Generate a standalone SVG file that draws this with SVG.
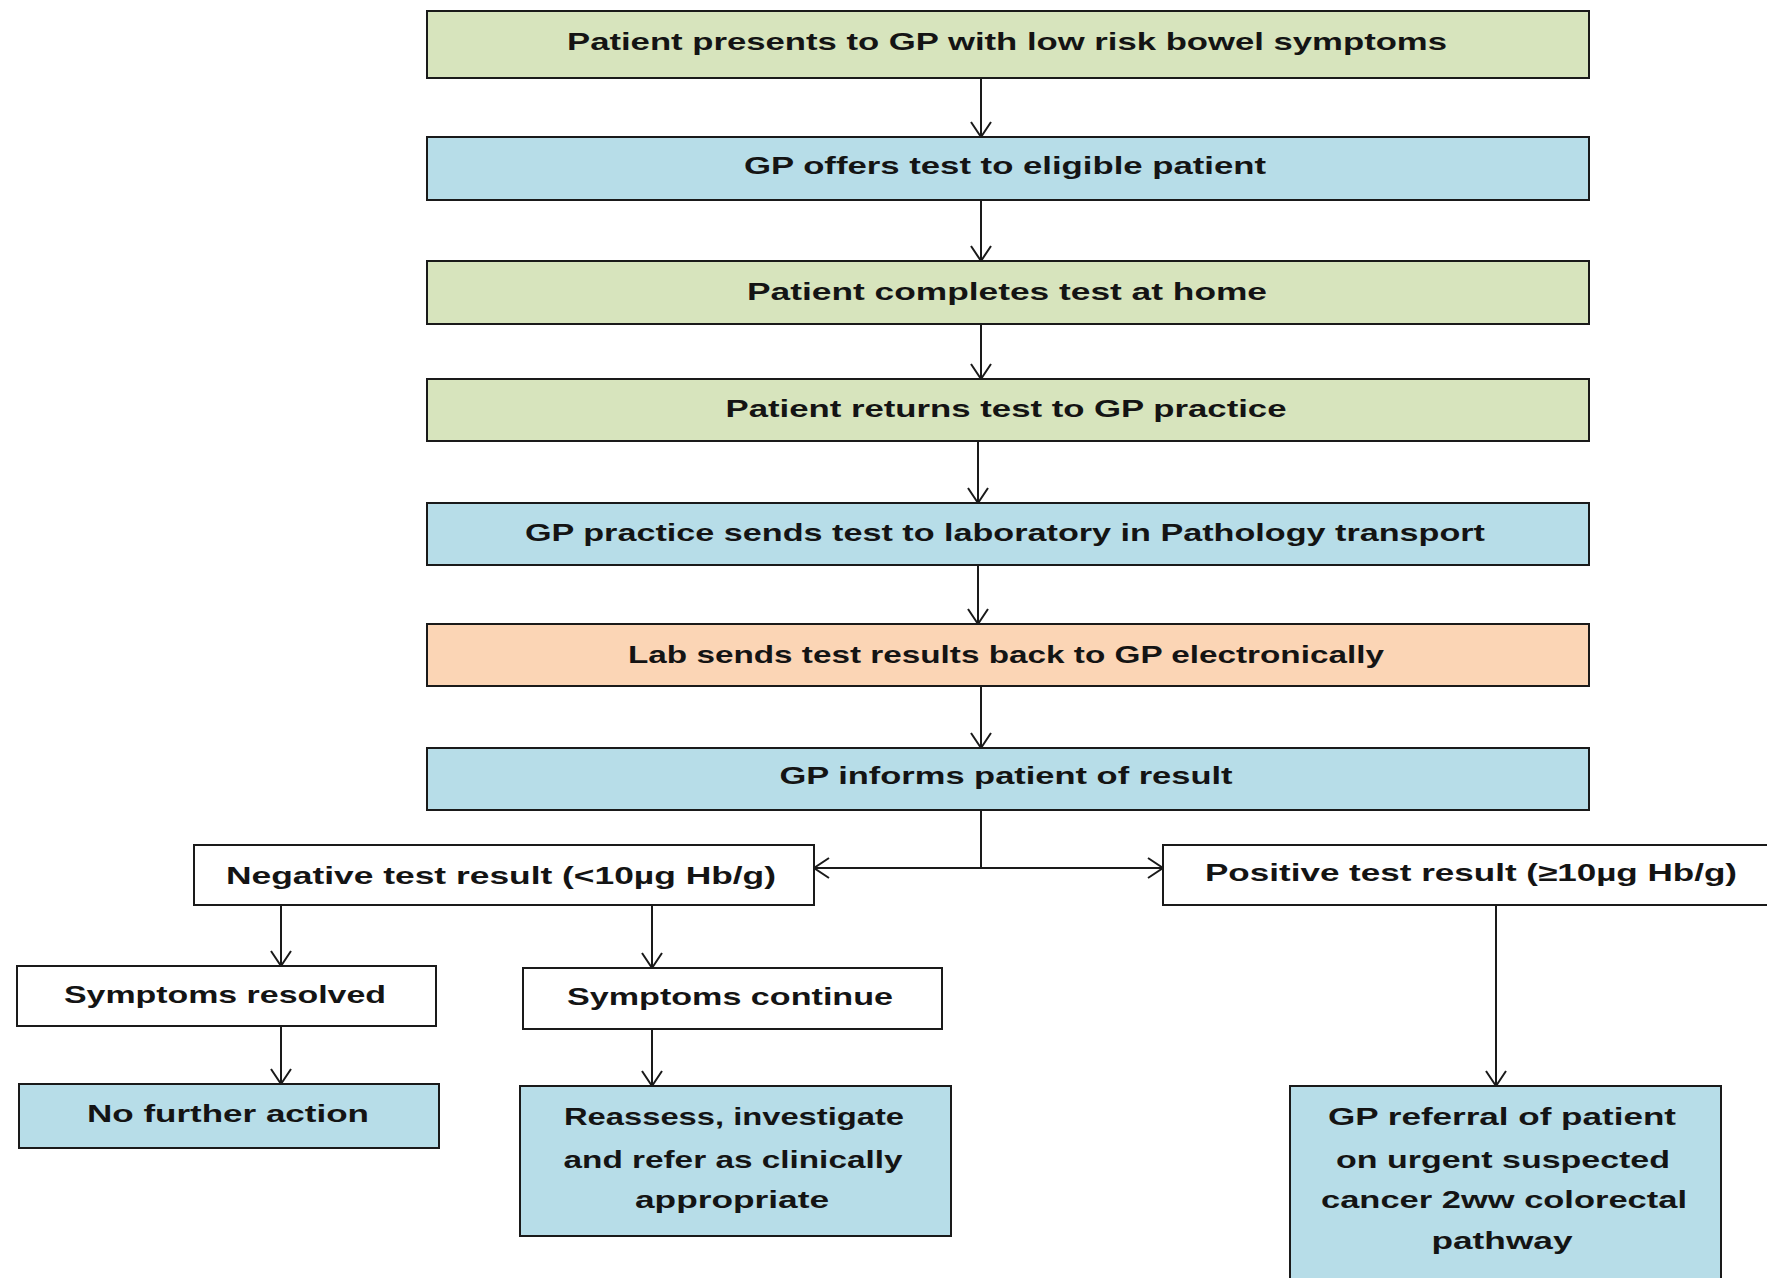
<svg xmlns="http://www.w3.org/2000/svg" width="1767" height="1278" viewBox="0 0 1767 1278">
<style>
.box{stroke:#1a1a1a;stroke-width:2}
.g{fill:#d7e4bd}.b{fill:#b7dde8}.p{fill:#fbd5b5}.w{fill:#ffffff}
text{font-family:"Liberation Sans",Arial,sans-serif;font-weight:bold;font-size:24px;fill:#141414;text-anchor:middle}
.c{stroke:#1a1a1a;stroke-width:2;fill:none}
</style>
<defs>
<marker id="ah" markerUnits="userSpaceOnUse" markerWidth="24" markerHeight="24" viewBox="0 0 24 24" refX="21" refY="12" orient="auto">
<path d="M6,2 L21,12 L6,22" fill="none" stroke="#1a1a1a" stroke-width="2"/>
</marker>
</defs>
<rect width="1767" height="1278" fill="#ffffff"/>
<g id="connectors">
<line class="c" x1="981" y1="78" x2="981" y2="137" marker-end="url(#ah)"/>
<line class="c" x1="981" y1="200" x2="981" y2="261" marker-end="url(#ah)"/>
<line class="c" x1="981" y1="324" x2="981" y2="379" marker-end="url(#ah)"/>
<line class="c" x1="978" y1="441" x2="978" y2="503" marker-end="url(#ah)"/>
<line class="c" x1="978" y1="565" x2="978" y2="624" marker-end="url(#ah)"/>
<line class="c" x1="981" y1="686" x2="981" y2="748" marker-end="url(#ah)"/>
<line class="c" x1="981" y1="810" x2="981" y2="868"/>
<line class="c" x1="981" y1="868" x2="814" y2="868" marker-end="url(#ah)"/>
<line class="c" x1="981" y1="868" x2="1163" y2="868" marker-end="url(#ah)"/>
<line class="c" x1="281" y1="905" x2="281" y2="966" marker-end="url(#ah)"/>
<line class="c" x1="652" y1="905" x2="652" y2="968" marker-end="url(#ah)"/>
<line class="c" x1="281" y1="1026" x2="281" y2="1084" marker-end="url(#ah)"/>
<line class="c" x1="652" y1="1029" x2="652" y2="1086" marker-end="url(#ah)"/>
<line class="c" x1="1496" y1="905" x2="1496" y2="1086" marker-end="url(#ah)"/>
</g>
<g id="n1"><rect class="box g" x="427" y="11" width="1162" height="67"/><text x="1007" y="50" textLength="880" lengthAdjust="spacingAndGlyphs">Patient presents to GP with low risk bowel symptoms</text></g>
<g id="n2"><rect class="box b" x="427" y="137" width="1162" height="63"/><text x="1005" y="174" textLength="522" lengthAdjust="spacingAndGlyphs">GP offers test to eligible patient</text></g>
<g id="n3"><rect class="box g" x="427" y="261" width="1162" height="63"/><text x="1007" y="300" textLength="520" lengthAdjust="spacingAndGlyphs">Patient completes test at home</text></g>
<g id="n4"><rect class="box g" x="427" y="379" width="1162" height="62"/><text x="1006" y="417" textLength="561" lengthAdjust="spacingAndGlyphs">Patient returns test to GP practice</text></g>
<g id="n5"><rect class="box b" x="427" y="503" width="1162" height="62"/><text x="1005" y="541" textLength="960" lengthAdjust="spacingAndGlyphs">GP practice sends test to laboratory in Pathology transport</text></g>
<g id="n6"><rect class="box p" x="427" y="624" width="1162" height="62"/><text x="1006" y="663" textLength="756" lengthAdjust="spacingAndGlyphs">Lab sends test results back to GP electronically</text></g>
<g id="n7"><rect class="box b" x="427" y="748" width="1162" height="62"/><text x="1006" y="784" textLength="453" lengthAdjust="spacingAndGlyphs">GP informs patient of result</text></g>
<g id="neg"><rect class="box w" x="194" y="845" width="620" height="60"/><text x="501" y="884" textLength="550" lengthAdjust="spacingAndGlyphs">Negative test result (&lt;10µg Hb/g)</text></g>
<g id="pos"><rect class="box w" x="1163" y="845" width="610" height="60"/><text x="1471" y="881" textLength="532" lengthAdjust="spacingAndGlyphs">Positive test result (≥10µg Hb/g)</text></g>
<g id="resolved"><rect class="box w" x="17" y="966" width="419" height="60"/><text x="225" y="1003" textLength="322" lengthAdjust="spacingAndGlyphs">Symptoms resolved</text></g>
<g id="continue"><rect class="box w" x="523" y="968" width="419" height="61"/><text x="730" y="1005" textLength="326" lengthAdjust="spacingAndGlyphs">Symptoms continue</text></g>
<g id="nfa"><rect class="box b" x="19" y="1084" width="420" height="64"/><text x="228" y="1122" textLength="282" lengthAdjust="spacingAndGlyphs">No further action</text></g>
<g id="reassess"><rect class="box b" x="520" y="1086" width="431" height="150"/>
<text x="734" y="1125" textLength="340" lengthAdjust="spacingAndGlyphs">Reassess, investigate</text>
<text x="733" y="1168" textLength="339" lengthAdjust="spacingAndGlyphs">and refer as clinically</text>
<text x="732" y="1208" textLength="194" lengthAdjust="spacingAndGlyphs">appropriate</text></g>
<g id="referral"><rect class="box b" x="1290" y="1086" width="431" height="210"/>
<text x="1502" y="1125" textLength="348" lengthAdjust="spacingAndGlyphs">GP referral of patient</text>
<text x="1503" y="1168" textLength="334" lengthAdjust="spacingAndGlyphs">on urgent suspected</text>
<text x="1504" y="1208" textLength="366" lengthAdjust="spacingAndGlyphs">cancer 2ww colorectal</text>
<text x="1502" y="1249" textLength="141" lengthAdjust="spacingAndGlyphs">pathway</text></g>
</svg>
